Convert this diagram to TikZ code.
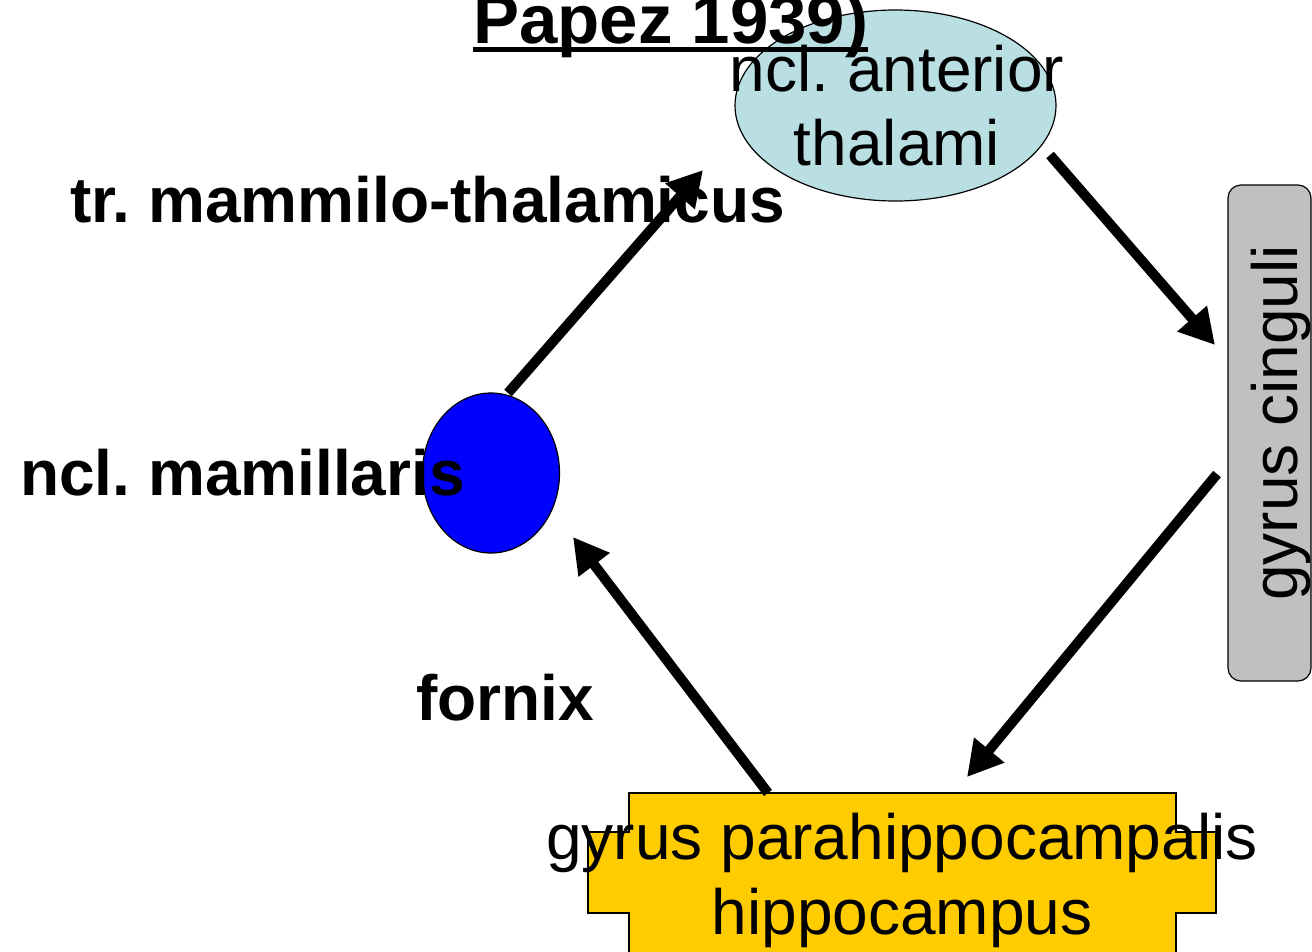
\documentclass[tikz,border=0pt]{standalone}
\usepackage{fontspec}
\setmainfont{Liberation Sans}
\usetikzlibrary{arrows.meta,shapes.geometric}
\frenchspacing
\definecolor{thalblue}{HTML}{B9DFE3}
\definecolor{cingray}{HTML}{C0C0C0}
\definecolor{hipyellow}{HTML}{FFCC00}
\tikzset{
  lbl/.style={inner sep=0pt, anchor=base, font=\fontsize{64}{64}\selectfont},
  blbl/.style={inner sep=0pt, anchor=base west, font=\fontsize{64}{64}\selectfont\bfseries},
  path arrow/.style={line width=10pt, -{Triangle[length=35pt,width=37pt]}},
  shapeline/.style={draw=black, line width=1.2pt}
}
\begin{document}
\begin{tikzpicture}[x=1pt,y=-1pt]
\useasboundingbox (0,0) rectangle (1312,951);
% shapes
\node[ellipse, shapeline, fill=thalblue, minimum width=321pt, minimum height=191pt, inner sep=0pt] (thal) at (895.5,105.5) {};
\node[ellipse, shapeline, fill=blue, minimum width=137pt, minimum height=160pt, inner sep=0pt] (mam) at (491,473) {};
\node[shapeline, fill=cingray, rounded corners=13pt, minimum width=83pt, minimum height=496pt, inner sep=0pt] (cing) at (1269.5,433) {};
\draw[shapeline, fill=hipyellow] (629,793) -- (1176,793) -- (1176,832) -- (1216,832) -- (1216,913) -- (1176,913) -- (1176,960) -- (629,960) -- (629,913) -- (588,913) -- (588,832) -- (629,832) -- cycle;
\coordinate (hip) at (902,793);
% texts
\node[lbl] (thal1) at (897,91) {ncl. anterior};
\node[lbl] (thal2) at (897,165) {thalami};
\node[lbl, rotate=90] (cingt) at (1297,423) {gyrus cinguli};
\node[lbl] (hip1) at (902,859) {gyrus parahippocampalis};
\node[lbl] (hip2) at (902,934) {hippocampus};
\node[blbl] (trmt) at (70,222) {tr. mammilo-thalamicus};
\node[blbl] (mamt) at (20,495) {ncl. mamillaris};
\node[blbl] (fornt) at (416,720) {fornix};
\node[inner sep=0pt, anchor=base west, font=\fontsize{69}{69}\selectfont\bfseries] (ttl) at (473,43) {Papez 1939)};
\draw[line width=5pt] ([yshift=-6.5pt]ttl.base west) -- ([yshift=-6.5pt]ttl.base east);
% arrow end points
\coordinate (a1s) at (508,393);
\coordinate (a1e) at (703,170);
\coordinate (a2s) at (1050,155);
\coordinate (a2e) at (1215,345);
\coordinate (a3s) at (1217,474);
\coordinate (a3e) at (967,777);
\coordinate (a4s) at (768,793);
\coordinate (a4e) at (573,537);
\draw[path arrow] (a1s) -- (a1e);
\draw[path arrow] (a2s) -- (a2e);
\draw[path arrow] (a3s) -- (a3e);
\draw[path arrow] (a4s) -- (a4e);
\end{tikzpicture}
\end{document}
